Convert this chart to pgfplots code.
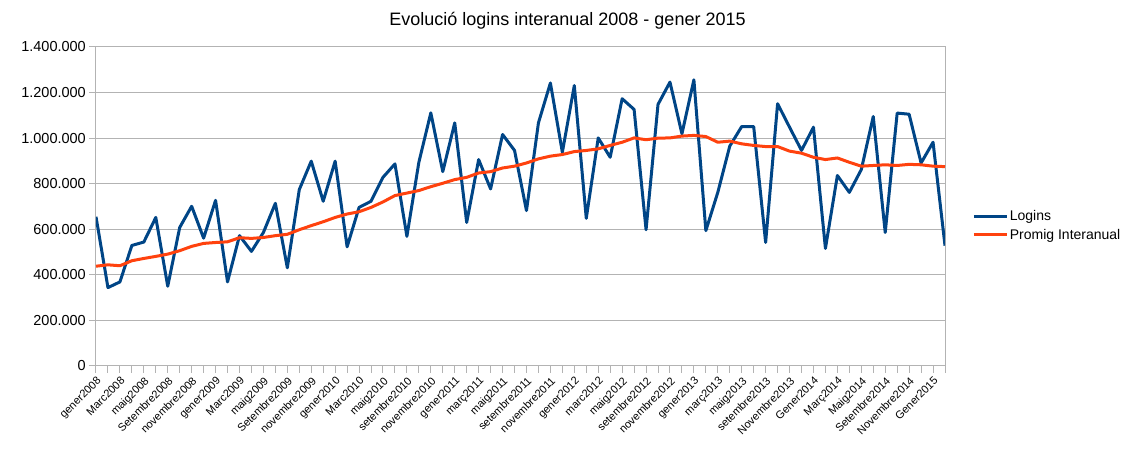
\documentclass[border=0pt]{standalone}
\usepackage{fontspec}
\setmainfont{Liberation Sans}
\usepackage{pgfplots}
\usepackage{pgfplotstable}
\pgfplotsset{compat=1.18}

\definecolor{loginsblue}{HTML}{004586}
\definecolor{promigorange}{HTML}{FF420E}
\definecolor{gridgray}{HTML}{B3B3B3}

% mes  logins
\pgfplotstableread{
x y
0 655000
1 344000
2 369000
3 529000
4 544000
5 652000
6 350000
7 608000
8 701000
9 561000
10 727000
11 369000
12 572000
13 503000
14 586000
15 714000
16 431000
17 774000
18 899000
19 723000
20 899000
21 523000
22 696000
23 723000
24 828000
25 887000
26 569000
27 894000
28 1111000
29 853000
30 1067000
31 630000
32 906000
33 777000
34 1016000
35 946000
36 682000
37 1067000
38 1242000
39 938000
40 1231000
41 648000
42 1001000
43 916000
44 1173000
45 1126000
46 598000
47 1148000
48 1246000
49 1019000
50 1256000
51 594000
52 762000
53 965000
54 1051000
55 1051000
56 542000
57 1151000
58 1048000
59 946000
60 1048000
61 516000
62 836000
63 762000
64 862000
65 1095000
66 586000
67 1110000
68 1105000
69 891000
70 982000
71 528000
}\logins

% mes  promig interanual
\pgfplotstableread{
x y
0 438000
1 444000
2 440000
3 462000
4 472000
5 481000
6 491000
7 506000
8 525000
9 538000
10 542000
11 545000
12 563000
13 560000
14 564000
15 572000
16 578000
17 598000
18 616000
19 633000
20 652000
21 667000
22 677000
23 696000
24 720000
25 748000
26 759000
27 770000
28 787000
29 802000
30 818000
31 828000
32 847000
33 853000
34 869000
35 877000
36 891000
37 909000
38 921000
39 928000
40 941000
41 946000
42 953000
43 968000
44 982000
45 1001000
46 993000
47 1000000
48 1001000
49 1009000
50 1012000
51 1007000
52 982000
53 987000
54 975000
55 968000
56 963000
57 963000
58 943000
59 934000
60 916000
61 906000
62 913000
63 894000
64 877000
65 880000
66 883000
67 880000
68 885000
69 883000
70 877000
71 875000
}\promig

\begin{document}
\begin{tikzpicture}
\path[use as bounding box] (-96pt,-91pt) rectangle (1033pt,366pt);
\begin{axis}[
  scale only axis,
  width=849pt, height=319pt,
  xmin=0, xmax=71,
  ymin=0, ymax=1400000,
  ytick={0,200000,...,1400000},
  scaled y ticks=false,
  /pgf/number format/fixed,
  /pgf/number format/1000 sep={.},
  /pgf/number format/assume math mode=true,
  xtick={0,2,...,70},
  minor xtick={1,3,...,71},
  xticklabels={gener2008, Marc2008, maig2008, Setembre2008, novembre2008,
    gener2009, Marc2009, maig2009, Setembre2009, novembre2009,
    gener2010, Marc2010, maig2010, setembre2010, novembre2010,
    gener2011, març2011, maig2011, setembre2011, novembre2011,
    gener2012, marc2012, maig2012, setembre2012, novembre2012,
    gener2013, març2013, maig2013, setembre2013, Novembre2013,
    Gener2014, Març2014, Maig2014, Setembre2014, Novembre2014, Gener2015},
  xtick pos=bottom, ytick pos=left,
  tick align=outside,
  major tick length=7pt, minor tick length=7pt,
  tick style={gridgray, line width=1pt},
  minor tick style={gridgray, line width=1pt},
  axis line style={gridgray, line width=1pt},
  ymajorgrids,
  major grid style={gridgray, line width=1pt},
  yticklabel style={font=\fontsize{14.5}{17}\selectfont, inner sep=3pt},
  xticklabel style={font=\fontsize{11}{13}\selectfont, rotate=45, anchor=north east, inner sep=1pt},
  xticklabel shift={1.5pt},
  legend style={at={(axis description cs:1.032,0.44)}, anchor=west,
    draw=none, fill=none, font=\fontsize{14}{17}\selectfont,
    inner sep=0pt, row sep=4pt, nodes={inner sep=1.5pt}},
  legend cell align=left,
  legend image code/.code={\draw[#1] (0pt,0pt) -- (33pt,0pt);},
]
\addplot[loginsblue, line width=3pt, line join=round] table[x=x, y=y] {\logins};
\addlegendentry{Logins}
\addplot[promigorange, line width=3pt, line join=round] table[x=x, y=y] {\promig};
\addlegendentry{Promig Interanual}
\end{axis}
\node[anchor=base, font=\fontsize{18}{22}\selectfont] at (471.5pt,340pt) {Evolució logins interanual 2008 - gener 2015};
\end{tikzpicture}
\end{document}
